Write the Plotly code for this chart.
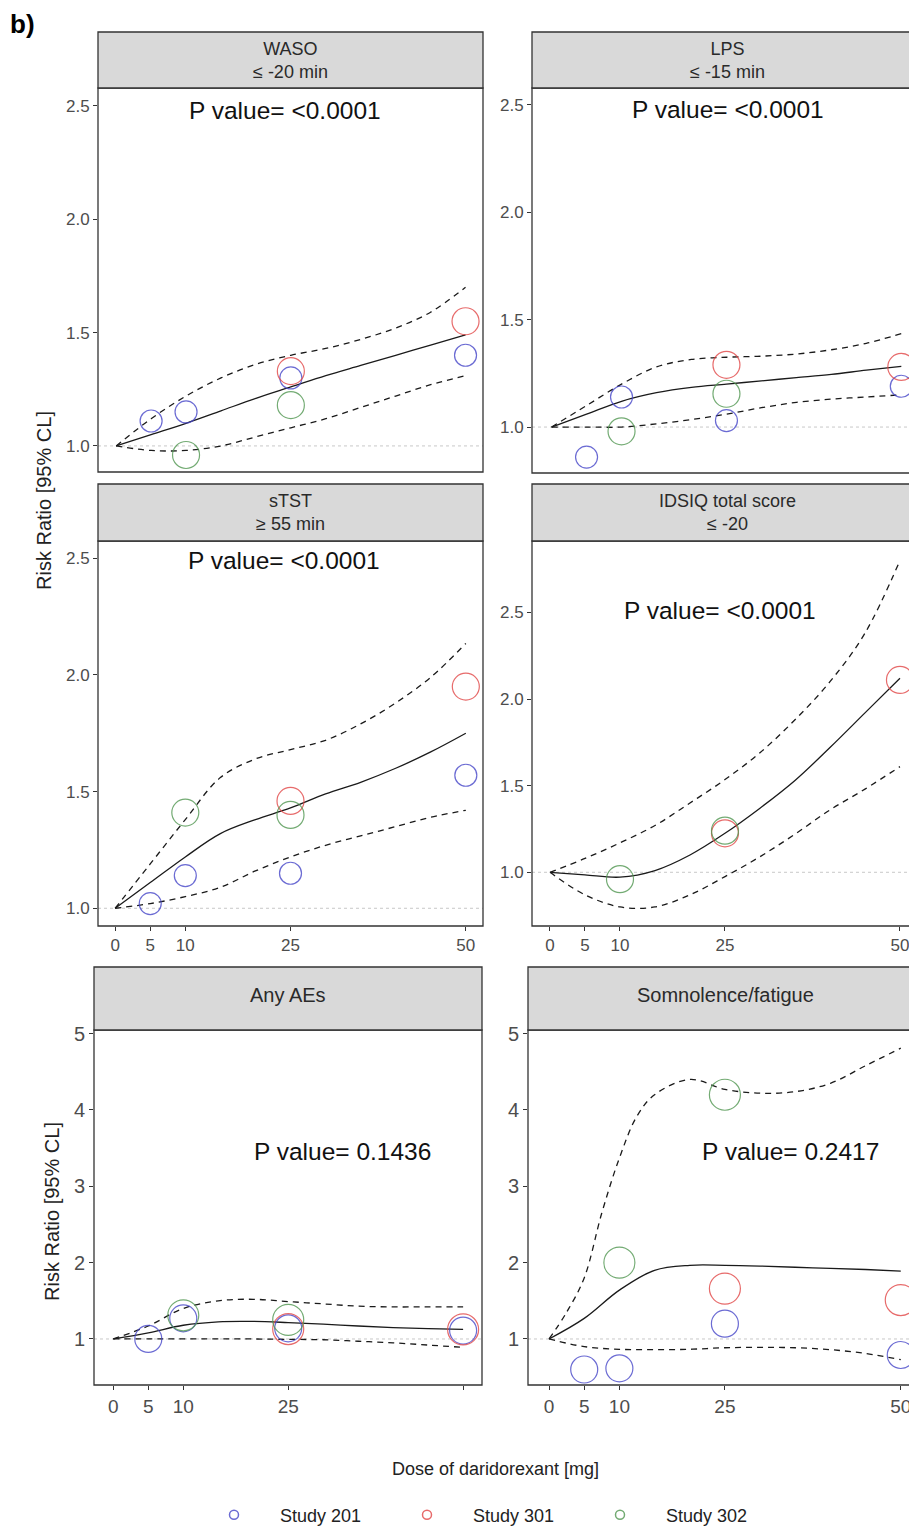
import plotly.graph_objects as go

# ---------------- data ----------------
DOSE_TICKS = [0, 5, 10, 25, 50]
DOSE_GRID = [0, 5, 10, 15, 20, 25, 30, 35, 40, 45, 50]
DOSE_GRID_FINE = [0, 2.5, 5, 7.5, 10, 12.5, 15, 20, 25, 30, 35, 40, 45, 50]

DOSES_201 = [5, 10, 25, 50]
DOSES_301 = [25, 50]
DOSES_302 = [10, 25]

PANEL_TITLES = ["WASO<br>≤ -20 min", "LPS<br>≤ -15 min", "sTST<br>≥ 55 min",
                "IDSIQ total score<br>≤ -20", "Any AEs", "Somnolence/fatigue"]
P_VALUES = ["<0.0001", "<0.0001", "<0.0001", "<0.0001", "0.1436", "0.2417"]

# WASO
WASO_201 = [1.11, 1.15, 1.30, 1.40]
WASO_301 = [1.33, 1.55]
WASO_302 = [0.96, 1.18]
WASO_FIT = [1.0, 1.05, 1.10, 1.155, 1.21, 1.26, 1.31, 1.355, 1.40, 1.445, 1.49]
WASO_LO = [1.0, 0.98, 0.98, 1.0, 1.04, 1.08, 1.12, 1.17, 1.22, 1.27, 1.31]
WASO_HI = [1.0, 1.12, 1.22, 1.30, 1.36, 1.40, 1.43, 1.47, 1.52, 1.59, 1.70]

# LPS
LPS_201 = [0.86, 1.14, 1.03, 1.19]
LPS_301 = [1.29, 1.28]
LPS_302 = [0.98, 1.155]
LPS_FIT = [1.0, 1.06, 1.12, 1.16, 1.185, 1.20, 1.215, 1.23, 1.245, 1.265, 1.283]
LPS_LO = [1.0, 1.0, 1.0, 1.015, 1.035, 1.06, 1.09, 1.115, 1.13, 1.14, 1.15]
LPS_HI = [1.0, 1.10, 1.20, 1.28, 1.315, 1.325, 1.33, 1.34, 1.36, 1.39, 1.435]

# sTST
STST_201 = [1.02, 1.14, 1.15, 1.57]
STST_301 = [1.46, 1.95]
STST_302 = [1.41, 1.40]
STST_FIT = [1.0, 1.11, 1.22, 1.32, 1.38, 1.43, 1.49, 1.54, 1.60, 1.67, 1.75]
STST_LO = [1.0, 1.02, 1.05, 1.09, 1.16, 1.22, 1.27, 1.31, 1.35, 1.39, 1.42]
STST_HI = [1.0, 1.19, 1.38, 1.56, 1.64, 1.68, 1.72, 1.79, 1.88, 1.99, 2.135]

# IDSIQ total score (no Study 201 data)
IDSIQ_201 = []
IDSIQ_301 = [1.225, 2.11]
IDSIQ_302 = [0.96, 1.24]
IDSIQ_FIT = [1.0, 0.985, 0.972, 1.01, 1.10, 1.225, 1.37, 1.53, 1.72, 1.92, 2.12]
IDSIQ_LO = [1.0, 0.87, 0.80, 0.80, 0.87, 0.975, 1.09, 1.22, 1.36, 1.48, 1.61]
IDSIQ_HI = [1.0, 1.08, 1.17, 1.27, 1.40, 1.535, 1.69, 1.88, 2.10, 2.38, 2.80]

# Any AEs
AE_201 = [1.0, 1.27, 1.14, 1.11]
AE_301 = [1.13, 1.125]
AE_302 = [1.31, 1.25]
AE_FIT = [1.0, 1.08, 1.18, 1.225, 1.23, 1.215, 1.195, 1.17, 1.15, 1.135, 1.125]
AE_LO = [1.0, 1.0, 1.0, 1.0, 1.0, 0.995, 0.99, 0.97, 0.95, 0.92, 0.89]
AE_HI = [1.0, 1.17, 1.40, 1.50, 1.52, 1.49, 1.46, 1.43, 1.42, 1.42, 1.42]

# Somnolence/fatigue
SOMN_201 = [0.60, 0.615, 1.20, 0.79]
SOMN_301 = [1.66, 1.51]
SOMN_302 = [2.0, 4.20]
SOMN_FIT = [1.0, 1.27, 1.64, 1.90, 1.965, 1.965, 1.955, 1.94, 1.925, 1.91, 1.89]
SOMN_LO = [1.0, 0.90, 0.865, 0.86, 0.865, 0.885, 0.89, 0.885, 0.86, 0.81, 0.73]
SOMN_HI = [1.0, 1.35, 1.80, 2.65, 3.37, 3.92, 4.20, 4.40, 4.27, 4.22, 4.24, 4.35, 4.58, 4.81]

STUDY_NAMES = ["Study 201", "Study 301", "Study 302"]

# ---------------- style / layout ----------------
W, H = 909, 1529
FONT = "Liberation Sans, Arial, sans-serif"
COLORS = ["rgba(70,70,200,0.8)", "rgba(225,70,70,0.8)", "rgba(80,150,80,0.8)"]
TICK_COL = "#4D4D4D"
BORDER = "#333333"

panels = [
    dict(data=(WASO_201, WASO_301, WASO_302), fit=WASO_FIT, lo=WASO_LO, hi=WASO_HI, hi_grid=DOSE_GRID,
         px=(98, 483, 88, 472), strip=32, xr=[-2.6, 52.5], yr=[0.885, 2.579], row=1,
         pxy=(24.1, 2.48)),
    dict(data=(LPS_201, LPS_301, LPS_302), fit=LPS_FIT, lo=LPS_LO, hi=LPS_HI, hi_grid=DOSE_GRID,
         px=(532, 909, 88, 473), strip=32, xr=[-2.8, 51.1], yr=[0.786, 2.579], row=1,
         pxy=(25.2, 2.48)),
    dict(data=(STST_201, STST_301, STST_302), fit=STST_FIT, lo=STST_LO, hi=STST_HI, hi_grid=DOSE_GRID,
         px=(98, 483, 541, 926), strip=484, xr=[-2.45, 52.45], yr=[0.924, 2.574], row=2,
         pxy=(24.1, 2.49)),
    dict(data=(IDSIQ_201, IDSIQ_301, IDSIQ_302), fit=IDSIQ_FIT, lo=IDSIQ_LO, hi=IDSIQ_HI, hi_grid=DOSE_GRID,
         px=(532, 909, 541, 926), strip=484, xr=[-2.57, 51.29], yr=[0.690, 2.912], row=2,
         pxy=(24.3, 2.51)),
    dict(data=(AE_201, AE_301, AE_302), fit=AE_FIT, lo=AE_LO, hi=AE_HI, hi_grid=DOSE_GRID,
         px=(94, 482, 1030, 1385), strip=967, xr=[-2.76, 52.7], yr=[0.397, 5.048], row=3,
         pxy=(32.8, 3.45)),
    dict(data=(SOMN_201, SOMN_301, SOMN_302), fit=SOMN_FIT, lo=SOMN_LO, hi=SOMN_HI, hi_grid=DOSE_GRID_FINE,
         px=(528, 909, 1030, 1385), strip=967, xr=[-2.99, 51.17], yr=[0.397, 5.048], row=3,
         pxy=(34.3, 3.45)),
]

def fx(p):
    return p / W

def fy(p):
    return 1 - p / H

fig = go.Figure()
shapes = []
annotations = []
layout = {}

for i, pn in enumerate(panels, start=1):
    xa = "x" if i == 1 else f"x{i}"
    ya = "y" if i == 1 else f"y{i}"
    x0, x1, y0, y1 = pn["px"]
    row = pn["row"]
    big = row == 3
    msize_small = 27 if big else 22
    msize_big = 31 if big else 27
    doses = (DOSES_201, DOSES_301, DOSES_302)

    # dotted reference line at RR = 1
    shapes.append(dict(type="line", xref=f"{xa} domain", yref=ya, x0=0, x1=1, y0=1, y1=1,
                       line=dict(color="#C8C8C8", width=1, dash="dot"), layer="below"))

    # fitted curve and confidence limits
    fig.add_trace(go.Scatter(x=DOSE_GRID, y=pn["fit"], mode="lines", xaxis=xa, yaxis=ya,
                             line=dict(color="#1a1a1a", width=1.3, shape="spline"),
                             showlegend=False, hoverinfo="skip"))
    fig.add_trace(go.Scatter(x=DOSE_GRID, y=pn["lo"], mode="lines", xaxis=xa, yaxis=ya,
                             line=dict(color="#1a1a1a", width=1.3, dash="6px,5px", shape="spline"),
                             showlegend=False, hoverinfo="skip"))
    fig.add_trace(go.Scatter(x=pn["hi_grid"], y=pn["hi"], mode="lines", xaxis=xa, yaxis=ya,
                             line=dict(color="#1a1a1a", width=1.3, dash="6px,5px", shape="spline"),
                             showlegend=False, hoverinfo="skip"))

    # study points
    for k, (vals, ds) in enumerate(zip(pn["data"], doses)):
        if not vals:
            continue
        fig.add_trace(go.Scatter(x=ds, y=vals, mode="markers", xaxis=xa, yaxis=ya,
                                 marker=dict(symbol="circle-open", size=msize_small if k == 0 else msize_big,
                                             color=COLORS[k], line=dict(width=1.2, color=COLORS[k])),
                                 showlegend=False, name=STUDY_NAMES[k]))

    tick_font = dict(family=FONT, size=17 if not big else 20, color=TICK_COL)
    xkey = "xaxis" if i == 1 else f"xaxis{i}"
    ykey = "yaxis" if i == 1 else f"yaxis{i}"
    if row == 1:
        xa_dict = dict(showticklabels=False, ticks="")
    else:
        ttext = [str(d) for d in DOSE_TICKS]
        if i == 5:
            ttext[-1] = ""
        xa_dict = dict(tickvals=DOSE_TICKS, ticktext=ttext, ticks="outside", ticklen=4,
                       tickcolor=BORDER, tickwidth=1.2, ticklabeloverflow="allow",
                       tickfont=dict(family=FONT, size=17 if not big else 19, color=TICK_COL))
    layout[xkey] = dict(domain=[fx(x0), min(fx(x1), 1.0)], range=pn["xr"], anchor=ya,
                        showgrid=False, zeroline=False, showline=False, fixedrange=True, **xa_dict)
    if big:
        yt = [1, 2, 3, 4, 5]
        ytt = [str(v) for v in yt]
    else:
        yt = [1.0, 1.5, 2.0, 2.5]
        ytt = [f"{v:.1f}" for v in yt]
    layout[ykey] = dict(domain=[fy(y1), fy(y0)], range=pn["yr"], anchor=xa,
                        tickvals=yt, ticktext=ytt, ticks="outside", ticklen=4, tickcolor=BORDER,
                        tickwidth=1.2, tickfont=tick_font, showgrid=False, zeroline=False,
                        showline=False, fixedrange=True)

    # panel border and strip
    xr_edge = x1 if x1 < W else W + 20
    shapes.append(dict(type="rect", xref="paper", yref="paper", x0=fx(x0), x1=fx(xr_edge),
                       y0=fy(y1), y1=fy(y0), line=dict(color=BORDER, width=1.3),
                       fillcolor="rgba(0,0,0,0)", layer="above"))
    shapes.append(dict(type="rect", xref="paper", yref="paper", x0=fx(x0), x1=fx(xr_edge),
                       y0=fy(y0), y1=fy(pn["strip"]), line=dict(color=BORDER, width=1.3),
                       fillcolor="#D9D9D9", layer="above"))
    full_w = 385 if not big else 388
    cx = x0 + full_w / 2 + (3 if x1 >= W else 0)
    cy = (pn["strip"] + y0) / 2 - (4 if big else 0)
    annotations.append(dict(text=PANEL_TITLES[i - 1], xref="paper", yref="paper", x=fx(cx), y=fy(cy),
                            xanchor="center", yanchor="middle", showarrow=False,
                            font=dict(family=FONT, size=18 if not big else 20, color="#2a2a2a")))
    # P value
    annotations.append(dict(text=f"P value= {P_VALUES[i - 1]}", xref=xa, yref=ya,
                            x=pn["pxy"][0], y=pn["pxy"][1], xanchor="center", yanchor="middle",
                            showarrow=False, font=dict(family=FONT, size=24.5, color="#111111")))

# legend dummy traces
for k, nm in enumerate(STUDY_NAMES):
    fig.add_trace(go.Scatter(x=[None], y=[None], mode="markers", name=nm,
                             marker=dict(symbol="circle-open", size=9, color=COLORS[k],
                                         line=dict(width=1.5, color=COLORS[k]))))

# titles
annotations.append(dict(text="b)", xref="paper", yref="paper", x=fx(8), y=fy(24), xanchor="left",
                        yanchor="middle", showarrow=False,
                        font=dict(family=FONT, size=26, color="#000000", weight="bold")))
annotations.append(dict(text="Risk Ratio [95% CL]", xref="paper", yref="paper", x=fx(44), y=fy(501),
                        xanchor="center", yanchor="middle", textangle=-90, showarrow=False,
                        font=dict(family=FONT, size=20, color="#222222")))
annotations.append(dict(text="Risk Ratio [95% CL]", xref="paper", yref="paper", x=fx(52), y=fy(1212),
                        xanchor="center", yanchor="middle", textangle=-90, showarrow=False,
                        font=dict(family=FONT, size=20, color="#222222")))
annotations.append(dict(text="Dose of daridorexant [mg]", xref="paper", yref="paper", x=fx(495), y=fy(1469),
                        xanchor="center", yanchor="middle", showarrow=False,
                        font=dict(family=FONT, size=18, color="#222222")))

fig.update_layout(
    width=W, height=H, margin=dict(l=0, r=0, t=0, b=0, autoexpand=False),
    paper_bgcolor="white", plot_bgcolor="white",
    shapes=shapes, annotations=annotations,
    showlegend=True,
    legend=dict(orientation="h", x=fx(188), y=fy(1515), xanchor="left", yanchor="middle",
                itemwidth=82, entrywidth=96, entrywidthmode="pixels",
                font=dict(family=FONT, size=18, color="#222222"), bgcolor="rgba(0,0,0,0)"),
    **layout,
)

fig.write_html("out.html", config={"displayModeBar": False},
               post_script="document.body.style.margin='0';document.body.style.overflow='hidden';")
